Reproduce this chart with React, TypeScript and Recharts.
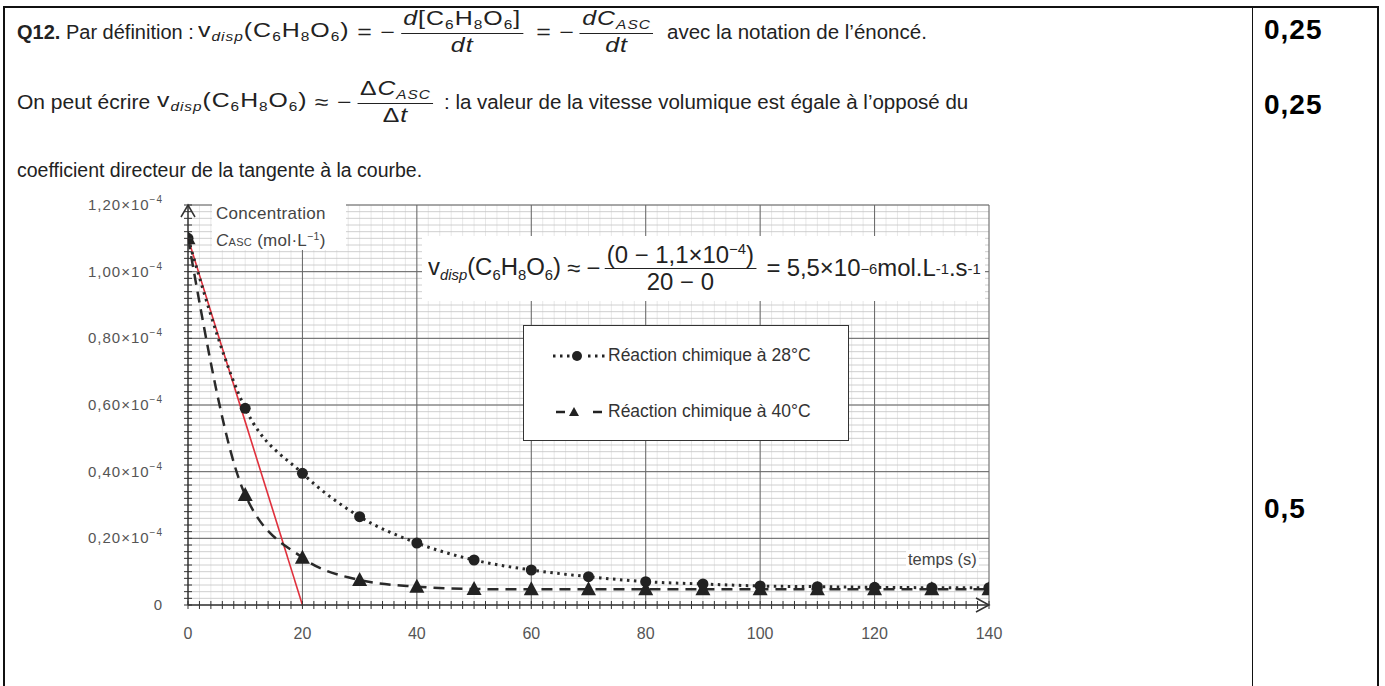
import React, { useLayoutEffect, useRef, useState } from 'react'
import { LineChart, Line, XAxis, YAxis, CartesianGrid, ReferenceLine, ReferenceDot } from 'recharts'

// temps en s, concentrations lues en 10^-4 mol/L
const temps = [0, 10, 20, 30, 40, 50, 60, 70, 80, 90, 100, 110, 120, 130, 140]
const conc28 = [1.1, 0.59, 0.395, 0.265, 0.186, 0.135, 0.105, 0.085, 0.07, 0.063, 0.057, 0.055, 0.053, 0.052, 0.052]
const conc40 = [1.1, 0.33, 0.142, 0.075, 0.055, 0.048, 0.047, 0.047, 0.047, 0.047, 0.047, 0.047, 0.047, 0.047, 0.047]
const tangenteT = [0, 20]
const tangenteC = [1.1, 0]
const xMajor = [20, 40, 60, 80, 100, 120, 140]
const yMajor = [0.2, 0.4, 0.6, 0.8, 1.0, 1.2]

const data = temps.map((t, i) => ({ t, c28: conc28[i], c40: conc40[i] }))
const xMinor = Array.from({ length: 71 }, (_, i) => i * 2)
const yMinor = Array.from({ length: 61 }, (_, i) => (i * 2) / 100)

const FONT = "'Liberation Sans', Arial, sans-serif"

function XTick({ x, y, payload }: any) {
  const v = payload.value
  return (
    <g>
      <line x1={x} x2={x} y1={y - 4} y2={y + 4} stroke="#333" />
      {v % 20 === 0 && (
        <text x={x} y={y + 34} textAnchor="middle" fontSize={16} fill="#555" fontFamily={FONT}>
          {v}
        </text>
      )}
    </g>
  )
}

function YTick({ x, y, payload }: any) {
  const k = Math.round(payload.value * 100)
  return (
    <g>
      <line x1={x - 4} x2={x + 4} y1={y} y2={y} stroke="#333" />
      {k % 20 === 0 && (
        <text x={x - 25} y={y + 5} textAnchor="end" fontSize={15} letterSpacing={1} fill="#555" fontFamily={FONT}>
          {k === 0 ? '0' : (
            <>
              {(k / 100).toFixed(2).replace('.', ',')}×10
              <tspan dy={-7} fontSize={10}>−4</tspan>
            </>
          )}
        </text>
      )}
    </g>
  )
}

function Circle(p: any) {
  return <circle key={`c${p.index}`} cx={p.cx} cy={p.cy} r={5.5} fill="#222" />
}

function Triangle(p: any) {
  const { cx, cy } = p
  return <path key={`t${p.index}`} d={`M${cx},${cy - 8} L${cx + 7.5},${cy + 6} L${cx - 7.5},${cy + 6} Z`} fill="#222" />
}

const Sub = ({ children }: any) => (
  <span style={{ fontSize: '0.62em', verticalAlign: '-0.35em' }}>{children}</span>
)
const Sup = ({ children }: any) => (
  <span style={{ fontSize: '0.62em', verticalAlign: '0.6em' }}>{children}</span>
)
const Op = ({ children }: any) => <span style={{ margin: '0 6px' }}>{children}</span>
const Frac = ({ num, den }: any) => (
  <span style={{ display: 'inline-flex', flexDirection: 'column', alignItems: 'center', verticalAlign: 'middle', margin: '0 4px' }}>
    <span style={{ padding: '0 2px', lineHeight: 1.15 }}>{num}</span>
    <span style={{ borderTop: '1px solid #222', alignSelf: 'stretch' }} />
    <span style={{ lineHeight: 1.15 }}>{den}</span>
  </span>
)
const Vdisp = () => (
  <span>
    v<Sub><i>disp</i></Sub>(C<Sub>6</Sub>H<Sub>8</Sub>O<Sub>6</Sub>)
  </span>
)
const Casc = () => (
  <i>
    C<Sub>ASC</Sub>
  </i>
)

// bloc positionné, étiré horizontalement pour occuper la largeur voulue
function Fit({ left, top, height, width, fontSize, spacing = 0, children }: any) {
  const ref = useRef<HTMLDivElement>(null)
  const [s, setS] = useState(1)
  useLayoutEffect(() => {
    if (ref.current && width) setS(width / ref.current.offsetWidth)
  }, [width])
  return (
    <div
      ref={ref}
      style={{
        position: 'absolute', left, top, height, display: 'flex', alignItems: 'center', whiteSpace: 'nowrap',
        fontSize, letterSpacing: spacing, color: '#222', transform: `scaleX(${s})`, transformOrigin: 'left center',
      }}
    >
      {children}
    </div>
  )
}

export default function App() {
  const bareme: React.CSSProperties = { position: 'absolute', left: 1264, fontSize: 28, fontWeight: 700, letterSpacing: 1 }
  return (
    <div style={{ position: 'absolute', left: 0, top: 0, width: 1385, height: 686, background: '#fff', overflow: 'hidden', fontFamily: FONT }}>
      {/* cadre du tableau */}
      <div style={{ position: 'absolute', left: 3, top: 6, width: 1376, borderTop: '2px solid #111' }} />
      <div style={{ position: 'absolute', left: 3, top: 6, height: 680, borderLeft: '2px solid #111' }} />
      <div style={{ position: 'absolute', left: 1252, top: 6, height: 680, borderLeft: '1.5px solid #111' }} />
      <div style={{ position: 'absolute', left: 1377, top: 6, height: 680, borderLeft: '2px solid #111' }} />

      <div style={{ ...bareme, top: 14 }}>0,25</div>
      <div style={{ ...bareme, top: 89 }}>0,25</div>
      <div style={{ ...bareme, top: 493 }}>0,5</div>

      {/* ligne 1 */}
      <Fit left={17} top={6} height={52} fontSize={20}>
        <b>Q12.</b>&nbsp;Par définition :
      </Fit>
      <Fit left={198} top={6} height={52} width={460} fontSize={20} spacing={0.8}>
        <Vdisp /><Op>=</Op>−
        <Frac num={<span><i>d</i>[C<Sub>6</Sub>H<Sub>8</Sub>O<Sub>6</Sub>]</span>} den={<i>dt</i>} />
        <Op>=</Op>−
        <Frac num={<span><i>d</i><Casc /></span>} den={<i>dt</i>} />
      </Fit>
      <Fit left={667} top={6} height={52} fontSize={20.5}>
        avec la notation de l’énoncé.
      </Fit>

      {/* ligne 2 */}
      <Fit left={17} top={76} height={52} fontSize={21}>
        On peut écrire
      </Fit>
      <Fit left={157} top={76} height={52} width={281} fontSize={20} spacing={0.8}>
        <Vdisp /><Op>≈</Op>−
        <Frac num={<span>Δ<Casc /></span>} den={<span>Δ<i>t</i></span>} />
      </Fit>
      <Fit left={444} top={76} height={52} fontSize={20.5}>
        : la valeur de la vitesse volumique est égale à l’opposé du
      </Fit>

      {/* ligne 3 */}
      <Fit left={17} top={158} height={24} fontSize={19.5}>
        coefficient directeur de la tangente à la courbe.
      </Fit>

      <div style={{ position: 'absolute', left: 0, top: 180 }}>
        <LineChart width={1040} height={480} data={data} margin={{ top: 25, right: 51, bottom: 25, left: 68 }}>
          <CartesianGrid horizontal={false} verticalValues={xMinor} stroke="#e2e2e2" strokeWidth={0.8} />
          <CartesianGrid vertical={false} horizontalValues={yMinor} stroke="#c4c4c4" strokeWidth={0.8} />
          <CartesianGrid horizontalValues={yMajor} verticalValues={xMajor} stroke="#666" strokeWidth={1} />
          <XAxis
            dataKey="t" type="number" domain={[0, 140]} ticks={xMinor} interval={0}
            tick={<XTick />} tickSize={0} tickMargin={0} tickLine={false}
            axisLine={{ stroke: '#333', strokeWidth: 1.5 }} height={30} allowDataOverflow
          />
          <YAxis
            type="number" domain={[0, 1.2]} ticks={yMinor} interval={0}
            tick={<YTick />} tickSize={0} tickMargin={0} tickLine={false}
            axisLine={{ stroke: '#333', strokeWidth: 1.5 }} width={120} allowDataOverflow
          />
          <ReferenceLine
            segment={[{ x: tangenteT[0], y: tangenteC[0] }, { x: tangenteT[1], y: tangenteC[1] }]}
            stroke="#e0303c" strokeWidth={1.6} ifOverflow="visible"
          />
          <Line
            dataKey="c28" type="monotone" stroke="#2a2a2a" strokeWidth={3}
            strokeDasharray="2.5 4.5" dot={Circle} isAnimationActive={false}
          />
          <Line
            dataKey="c40" type="monotone" stroke="#2a2a2a" strokeWidth={2.5}
            strokeDasharray="11 7" dot={Triangle} isAnimationActive={false}
          />
          <ReferenceDot
            x={0} y={1.2} ifOverflow="visible"
            shape={(p: any) => <path d={`M${p.cx - 7},${p.cy + 12} L${p.cx},${p.cy} L${p.cx + 7},${p.cy + 12}`} stroke="#333" strokeWidth={1.5} fill="none" />}
          />
          <ReferenceDot
            x={140} y={0} ifOverflow="visible"
            shape={(p: any) => <path d={`M${p.cx - 13},${p.cy - 7} L${p.cx},${p.cy} L${p.cx - 13},${p.cy + 7}`} stroke="#333" strokeWidth={1.5} fill="none" />}
          />
        </LineChart>
      </div>

      {/* étiquette de l'axe des ordonnées */}
      <div style={{ position: 'absolute', left: 212, top: 203, width: 130, height: 47, background: '#fff', fontSize: 17, letterSpacing: 0.3, color: '#444', lineHeight: '22px', paddingLeft: 4, whiteSpace: 'nowrap' }}>
        Concentration
        <div><i>C</i><span style={{ fontSize: 11 }}>ASC</span> (mol·L<Sup>−1</Sup>)</div>
      </div>

      {/* calcul de la vitesse */}
      <div style={{ position: 'absolute', left: 422, top: 236, width: 563, height: 65, background: '#fff' }} />
      <Fit left={428} top={236} height={65} width={553} fontSize={23}>
        <Vdisp /><Op>≈</Op>−
        <Frac num={<span>(0 − 1,1×10<Sup>−4</Sup>)</span>} den="20 − 0" />
        <Op>=</Op>5,5×10<Sup>−6</Sup>mol.L<Sup>-1</Sup>.s<Sup>-1</Sup>
      </Fit>

      {/* légende */}
      <div style={{ position: 'absolute', left: 523, top: 325, width: 324, height: 114, background: '#fff', border: '1.5px solid #333', fontSize: 17.5, color: '#333' }}>
        <svg width={60} height={20} style={{ position: 'absolute', left: 27, top: 20 }}>
          <line x1={2} x2={54} y1={10} y2={10} stroke="#222" strokeWidth={3} strokeDasharray="2.5 4.5" />
          <rect x={19} y={3} width={14} height={14} fill="#fff" />
          <circle cx={26} cy={10} r={5} fill="#222" />
        </svg>
        <div style={{ position: 'absolute', left: 84, top: 19 }}>Réaction chimique à 28°C</div>
        <svg width={60} height={20} style={{ position: 'absolute', left: 30, top: 76 }}>
          <line x1={2} x2={48} y1={10} y2={10} stroke="#222" strokeWidth={2.5} strokeDasharray="9 28" />
          <path d="M20,5 L25,14 L15,14 Z" fill="#222" />
        </svg>
        <div style={{ position: 'absolute', left: 84, top: 75 }}>Réaction chimique à 40°C</div>
      </div>

      <div style={{ position: 'absolute', left: 906, top: 550, background: 'rgba(255,255,255,0.85)', fontSize: 16.5, color: '#444', padding: '0 2px' }}>
        temps (s)
      </div>
    </div>
  )
}
